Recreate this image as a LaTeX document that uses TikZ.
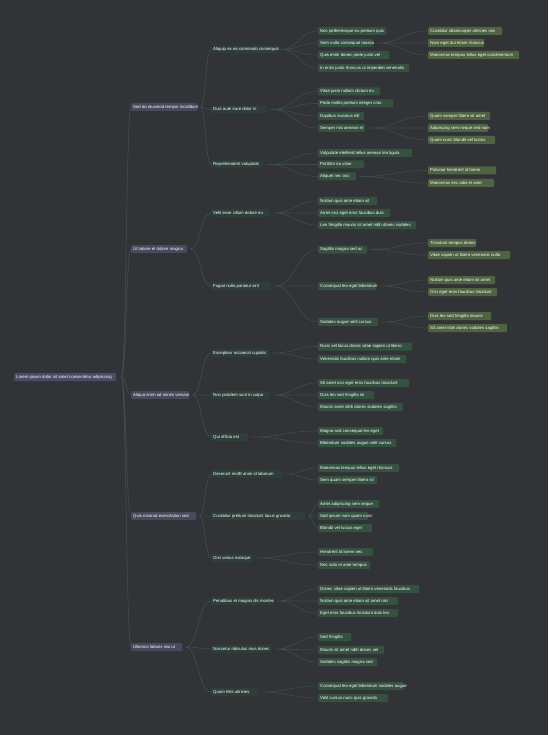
\documentclass[tikz,border=0pt]{standalone}
\usepackage{fontspec}
\setmainfont{Liberation Sans}
\usetikzlibrary{calc}

\definecolor{bgcol}{HTML}{323337}
\definecolor{rootcol}{HTML}{4A4C67}
\definecolor{topiccol}{HTML}{464A5A}
\definecolor{subcol}{HTML}{2D3F38}
\definecolor{leafcol}{HTML}{35513F}
\definecolor{detailcol}{HTML}{4E6341}
\definecolor{linkgray}{HTML}{4B4D57}
\definecolor{linkgreen}{HTML}{3A4E43}

\tikzset{
    every node/.style={font=\fontsize{4.3}{5}\selectfont, text=white},
    box/.style={anchor=west, rounded corners=1pt, inner xsep=2pt, inner ysep=0pt,
        minimum height=8pt, text height=3pt, text depth=0.9pt,
        execute at begin node={\hbox to \dimexpr#1pt-4pt\relax\bgroup},
        execute at end node={\hss\egroup}},
    rootbox/.style={box=#1, fill=rootcol},
    topic/.style={box=#1, fill=topiccol},
    subtopic/.style={box=#1, fill=subcol},
    leaf/.style={box=#1, fill=leafcol},
    detail/.style={box=#1, fill=detailcol},
    branch/.style={to path={let \p1=(\tikztostart), \p2=(\tikztotarget),
        \n1={0.5*(\x1+\x2)} in
        .. controls ({\n1*1pt},\y1) and ({\n1*1pt},\y2) .. (\tikztotarget)}},
    graylink/.style={draw=linkgray, line width=0.5pt},
    greenlink/.style={draw=linkgreen, line width=0.6pt},
}

\begin{document}
\begin{tikzpicture}[x=1pt,y=-1pt]
    \fill[bgcol] (0,0) rectangle (548,735);
    \useasboundingbox (0,0) rectangle (548,735);

    % root and main topics
    \node[rootbox=102] (root) at (14,377) {Lorem ipsum dolor sit amet consectetur adipiscing};
    \node[topic=66] (a) at (131,107) {Sed do eiusmod tempor incididunt};
    \node[topic=56] (b) at (131,249) {Ut labore et dolore magna};
    \node[topic=58] (c) at (131,395) {Aliqua enim ad minim veniam};
    \node[topic=65] (d) at (131,516) {Quis nostrud exercitation sed};
    \node[topic=51] (e) at (131,647) {Ullamco laboris nisi ut};

    % second level
    \node[subtopic=66] (a1) at (211,49.5) {Aliquip ex ea commodo consequat};
    \node[subtopic=56] (a2) at (211,109.5) {Duis aute irure dolor in};
    \node[subtopic=52] (a3) at (211,164.5) {Reprehenderit voluptate};
    \node[subtopic=58] (b1) at (211,213) {Velit esse cillum dolore eu};
    \node[subtopic=60] (b2) at (211,286) {Fugiat nulla pariatur sint};
    \node[subtopic=58] (c1) at (211,353) {Excepteur occaecat cupidat};
    \node[subtopic=58] (c2) at (211,395) {Non proident sunt in culpa};
    \node[subtopic=37] (c3) at (211,437) {Qui officia est};
    \node[subtopic=71] (d1) at (211,474) {Deserunt mollit anim id laborum};
    \node[subtopic=94] (d2) at (211,516) {Curabitur pretium tincidunt lacus gravida};
    \node[subtopic=42] (d3) at (211,558) {Orci varius natoque};
    \node[subtopic=62] (e1) at (211,601) {Penatibus et magnis dis montes};
    \node[subtopic=61] (e2) at (211,649) {Nascetur ridiculus mus donec};
    \node[subtopic=47] (e3) at (211,692) {Quam felis ultricies};

    % third level
    \node[leaf=68] (a11) at (318,31) {Nec pellentesque eu pretium quis};
    \node[leaf=55] (a12) at (318,43) {Sem nulla consequat massa};
    \node[leaf=71] (a13) at (318,55) {Quis enim donec pede justo vel};
    \node[leaf=91] (a14) at (318,68) {In enim justo rhoncus ut imperdiet venenatis};
    \node[leaf=62] (a21) at (318,91.5) {Vitae justo nullam dictum eu};
    \node[leaf=75] (a22) at (318,103.5) {Pede mollis pretium integer cras};
    \node[leaf=46] (a23) at (318,116) {Dapibus vivamus elit};
    \node[leaf=47] (a24) at (318,128) {Semper nisi aenean et};
    \node[leaf=94] (a31) at (318,153) {Vulputate eleifend tellus aenean leo ligula};
    \node[leaf=46] (a32) at (318,164.5) {Porttitor eu vitae};
    \node[leaf=38] (a33) at (318,176.5) {Aliquet nec orci};
    \node[leaf=59] (b11) at (318,201) {Nullam quis ante etiam sit};
    \node[leaf=72] (b12) at (318,213) {Amet orci eget eros faucibus duis};
    \node[leaf=98] (b13) at (318,225) {Leo fringilla mauris sit amet nibh donec sodales};
    \node[leaf=49] (b21) at (318,249.5) {Sagittis magna sed ac};
    \node[leaf=58] (b22) at (318,286) {Consequat leo eget bibendum};
    \node[leaf=60] (b23) at (318,322) {Sodales augue velit cursus};
    \node[leaf=94] (c11) at (318,346.5) {Nunc vel lacus donec vitae sapien ut libero};
    \node[leaf=88] (c12) at (318,359) {Venenatis faucibus nullam quis ante etiam};
    \node[leaf=91] (c21) at (318,383) {Sit amet orci eget eros faucibus tincidunt};
    \node[leaf=56] (c22) at (318,395) {Duis leo sed fringilla mi};
    \node[leaf=85] (c23) at (318,407) {Mauris amet nibh donec sodales sagittis};
    \node[leaf=65] (c31) at (318,431) {Magna sed consequat leo eget};
    \node[leaf=78] (c32) at (318,443) {Bibendum sodales augue velit cursus};
    \node[leaf=81] (d11) at (318,468) {Maecenas tempus tellus eget rhoncus};
    \node[leaf=59] (d12) at (318,480) {Sem quam semper libero sit};
    \node[leaf=61] (d21) at (318,504) {Amet adipiscing sem neque};
    \node[leaf=50] (d22) at (318,516) {Sed ipsum nam quam nunc};
    \node[leaf=54] (d23) at (318,528) {Blandit vel luctus eget};
    \node[leaf=55] (d31) at (318,552) {Hendrerit id lorem nec};
    \node[leaf=52] (d32) at (318,565) {Nec odio et ante tempus};
    \node[leaf=101] (e11) at (318,589) {Donec vitae sapien ut libero venenatis faucibus};
    \node[leaf=80] (e12) at (318,601) {Nullam quis ante etiam sit amet orci};
    \node[leaf=80] (e13) at (318,613) {Eget eros faucibus tincidunt duis leo};
    \node[leaf=33] (e21) at (318,637) {Sed fringilla};
    \node[leaf=66] (e22) at (318,650) {Mauris sit amet nibh donec vel};
    \node[leaf=59] (e23) at (318,662) {Sodales sagittis magna sed};
    \node[leaf=86] (e31) at (318,686) {Consequat leo eget bibendum sodales augue};
    \node[leaf=70] (e32) at (318,698) {Velit cursus nunc quis gravida};

    % fourth level
    \node[detail=74] (a121) at (428,31) {Curabitur ullamcorper ultricies nisi};
    \node[detail=56] (a122) at (428,43) {Nam eget dui etiam rhoncus};
    \node[detail=91] (a123) at (428,55) {Maecenas tempus tellus eget condimentum};
    \node[detail=62] (a241) at (428,116) {Quam semper libero sit amet};
    \node[detail=60] (a242) at (428,128) {Adipiscing sem neque sed nam};
    \node[detail=67] (a243) at (428,140) {Quam nunc blandit vel luctus};
    \node[detail=68] (a331) at (428,170.5) {Pulvinar hendrerit id lorem};
    \node[detail=66] (a332) at (428,183) {Maecenas nec odio et ante};
    \node[detail=48] (b211) at (428,243) {Tincidunt tempus donec};
    \node[detail=82] (b212) at (428,255) {Vitae sapien ut libero venenatis nulla};
    \node[detail=67] (b221) at (428,280) {Nullam quis ante etiam sit amet};
    \node[detail=69] (b222) at (428,292) {Orci eget eros faucibus tincidunt};
    \node[detail=63] (b231) at (428,316) {Duis leo sed fringilla mauris};
    \node[detail=79] (b232) at (428,328) {Sit amet nibh donec sodales sagittis};

    % links
    \draw[graylink] ([xshift=5pt]root.east) to[branch] (a.west) ([xshift=5pt]root.east) to[branch] (b.west)
        ([xshift=5pt]root.east) to[branch] (c.west) ([xshift=5pt]root.east) to[branch] (d.west)
        ([xshift=5pt]root.east) to[branch] (e.west);
    \draw[graylink] ([xshift=3pt]a.east) to[branch] (a1.west) ([xshift=3pt]a.east) to[branch] (a2.west)
        ([xshift=3pt]a.east) to[branch] (a3.west);
    \draw[graylink] ([xshift=3pt]b.east) to[branch] (b1.west) ([xshift=3pt]b.east) to[branch] (b2.west);
    \draw[graylink] ([xshift=3pt]c.east) to[branch] (c1.west) ([xshift=3pt]c.east) to[branch] (c2.west)
        ([xshift=3pt]c.east) to[branch] (c3.west);
    \draw[graylink] ([xshift=3pt]d.east) to[branch] (d1.west) ([xshift=3pt]d.east) to[branch] (d2.west)
        ([xshift=3pt]d.east) to[branch] (d3.west);
    \draw[graylink] ([xshift=3pt]e.east) to[branch] (e1.west) ([xshift=3pt]e.east) to[branch] (e2.west)
        ([xshift=3pt]e.east) to[branch] (e3.west);

    \draw[greenlink] ([xshift=3pt]a1.east) to[branch] (a11.west) ([xshift=3pt]a1.east) to[branch] (a12.west)
        ([xshift=3pt]a1.east) to[branch] (a13.west) ([xshift=3pt]a1.east) to[branch] (a14.west);
    \draw[greenlink] ([xshift=3pt]a2.east) to[branch] (a21.west) ([xshift=3pt]a2.east) to[branch] (a22.west)
        ([xshift=3pt]a2.east) to[branch] (a23.west) ([xshift=3pt]a2.east) to[branch] (a24.west);
    \draw[greenlink] ([xshift=3pt]a3.east) to[branch] (a31.west) ([xshift=3pt]a3.east) to[branch] (a32.west)
        ([xshift=3pt]a3.east) to[branch] (a33.west);
    \draw[greenlink] ([xshift=3pt]b1.east) to[branch] (b11.west) ([xshift=3pt]b1.east) to[branch] (b12.west)
        ([xshift=3pt]b1.east) to[branch] (b13.west);
    \draw[greenlink] ([xshift=3pt]b2.east) to[branch] (b21.west) ([xshift=3pt]b2.east) to[branch] (b22.west)
        ([xshift=3pt]b2.east) to[branch] (b23.west);
    \draw[greenlink] ([xshift=3pt]c1.east) to[branch] (c11.west) ([xshift=3pt]c1.east) to[branch] (c12.west);
    \draw[greenlink] ([xshift=3pt]c2.east) to[branch] (c21.west) ([xshift=3pt]c2.east) to[branch] (c22.west)
        ([xshift=3pt]c2.east) to[branch] (c23.west);
    \draw[greenlink] ([xshift=3pt]c3.east) to[branch] (c31.west) ([xshift=3pt]c3.east) to[branch] (c32.west);
    \draw[greenlink] ([xshift=3pt]d1.east) to[branch] (d11.west) ([xshift=3pt]d1.east) to[branch] (d12.west);
    \draw[greenlink] ([xshift=3pt]d2.east) to[branch] (d21.west) ([xshift=3pt]d2.east) to[branch] (d22.west)
        ([xshift=3pt]d2.east) to[branch] (d23.west);
    \draw[greenlink] ([xshift=3pt]d3.east) to[branch] (d31.west) ([xshift=3pt]d3.east) to[branch] (d32.west);
    \draw[greenlink] ([xshift=3pt]e1.east) to[branch] (e11.west) ([xshift=3pt]e1.east) to[branch] (e12.west)
        ([xshift=3pt]e1.east) to[branch] (e13.west);
    \draw[greenlink] ([xshift=3pt]e2.east) to[branch] (e21.west) ([xshift=3pt]e2.east) to[branch] (e22.west)
        ([xshift=3pt]e2.east) to[branch] (e23.west);
    \draw[greenlink] ([xshift=3pt]e3.east) to[branch] (e31.west) ([xshift=3pt]e3.east) to[branch] (e32.west);

    \draw[greenlink] ([xshift=3pt]a12.east) to[branch] (a121.west) ([xshift=3pt]a12.east) to[branch] (a122.west)
        ([xshift=3pt]a12.east) to[branch] (a123.west);
    \draw[greenlink] ([xshift=3pt]a24.east) to[branch] (a241.west) ([xshift=3pt]a24.east) to[branch] (a242.west)
        ([xshift=3pt]a24.east) to[branch] (a243.west);
    \draw[greenlink] ([xshift=3pt]a33.east) to[branch] (a331.west) ([xshift=3pt]a33.east) to[branch] (a332.west);
    \draw[greenlink] ([xshift=3pt]b21.east) to[branch] (b211.west) ([xshift=3pt]b21.east) to[branch] (b212.west);
    \draw[greenlink] ([xshift=3pt]b22.east) to[branch] (b221.west) ([xshift=3pt]b22.east) to[branch] (b222.west);
    \draw[greenlink] ([xshift=3pt]b23.east) to[branch] (b231.west) ([xshift=3pt]b23.east) to[branch] (b232.west);
\end{tikzpicture}
\end{document}
